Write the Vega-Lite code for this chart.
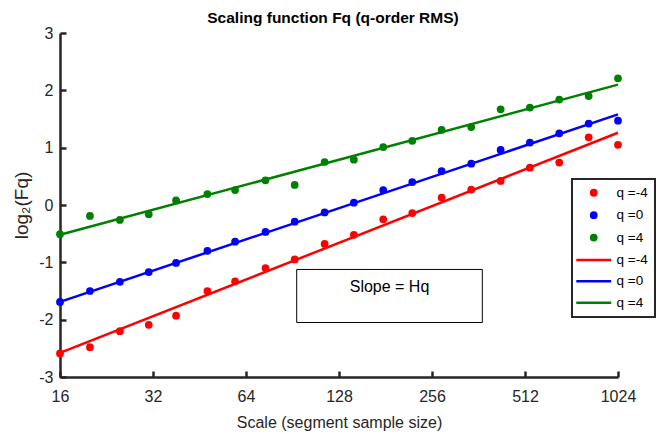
{
  "$schema": "https://vega.github.io/schema/vega-lite/v6.json",
  "width": 558,
  "height": 344,
  "autosize": {"type": "none"},
  "padding": {"left": 60, "top": 33, "right": 39, "bottom": 62},
  "background": "white",
  "title": {"text": "Scaling function Fq (q-order RMS)", "fontSize": 15.5, "fontWeight": "bold", "font": "Liberation Sans", "color": "#000000", "frame": "group", "anchor": "middle", "offset": -1, "dx": -6},
  "datasets": {
    "dots": [
      {"scale": 16, "value": -2.59, "series": "dots q =-4"},
      {"scale": 20, "value": -2.48, "series": "dots q =-4"},
      {"scale": 25, "value": -2.20, "series": "dots q =-4"},
      {"scale": 31, "value": -2.09, "series": "dots q =-4"},
      {"scale": 38, "value": -1.93, "series": "dots q =-4"},
      {"scale": 48, "value": -1.50, "series": "dots q =-4"},
      {"scale": 59, "value": -1.33, "series": "dots q =-4"},
      {"scale": 74, "value": -1.10, "series": "dots q =-4"},
      {"scale": 92, "value": -0.95, "series": "dots q =-4"},
      {"scale": 115, "value": -0.68, "series": "dots q =-4"},
      {"scale": 143, "value": -0.52, "series": "dots q =-4"},
      {"scale": 178, "value": -0.25, "series": "dots q =-4"},
      {"scale": 221, "value": -0.14, "series": "dots q =-4"},
      {"scale": 275, "value": 0.13, "series": "dots q =-4"},
      {"scale": 343, "value": 0.27, "series": "dots q =-4"},
      {"scale": 427, "value": 0.42, "series": "dots q =-4"},
      {"scale": 531, "value": 0.65, "series": "dots q =-4"},
      {"scale": 661, "value": 0.74, "series": "dots q =-4"},
      {"scale": 823, "value": 1.18, "series": "dots q =-4"},
      {"scale": 1024, "value": 1.05, "series": "dots q =-4"},
      {"scale": 16, "value": -1.69, "series": "dots q =0"},
      {"scale": 20, "value": -1.50, "series": "dots q =0"},
      {"scale": 25, "value": -1.34, "series": "dots q =0"},
      {"scale": 31, "value": -1.17, "series": "dots q =0"},
      {"scale": 38, "value": -1.01, "series": "dots q =0"},
      {"scale": 48, "value": -0.80, "series": "dots q =0"},
      {"scale": 59, "value": -0.64, "series": "dots q =0"},
      {"scale": 74, "value": -0.47, "series": "dots q =0"},
      {"scale": 92, "value": -0.29, "series": "dots q =0"},
      {"scale": 115, "value": -0.13, "series": "dots q =0"},
      {"scale": 143, "value": 0.04, "series": "dots q =0"},
      {"scale": 178, "value": 0.26, "series": "dots q =0"},
      {"scale": 221, "value": 0.40, "series": "dots q =0"},
      {"scale": 275, "value": 0.59, "series": "dots q =0"},
      {"scale": 343, "value": 0.72, "series": "dots q =0"},
      {"scale": 427, "value": 0.96, "series": "dots q =0"},
      {"scale": 531, "value": 1.09, "series": "dots q =0"},
      {"scale": 661, "value": 1.25, "series": "dots q =0"},
      {"scale": 823, "value": 1.42, "series": "dots q =0"},
      {"scale": 1024, "value": 1.47, "series": "dots q =0"},
      {"scale": 16, "value": -0.51, "series": "dots q =4"},
      {"scale": 20, "value": -0.19, "series": "dots q =4"},
      {"scale": 25, "value": -0.26, "series": "dots q =4"},
      {"scale": 31, "value": -0.16, "series": "dots q =4"},
      {"scale": 38, "value": 0.08, "series": "dots q =4"},
      {"scale": 48, "value": 0.19, "series": "dots q =4"},
      {"scale": 59, "value": 0.26, "series": "dots q =4"},
      {"scale": 74, "value": 0.43, "series": "dots q =4"},
      {"scale": 92, "value": 0.35, "series": "dots q =4"},
      {"scale": 115, "value": 0.75, "series": "dots q =4"},
      {"scale": 143, "value": 0.79, "series": "dots q =4"},
      {"scale": 178, "value": 1.01, "series": "dots q =4"},
      {"scale": 221, "value": 1.12, "series": "dots q =4"},
      {"scale": 275, "value": 1.31, "series": "dots q =4"},
      {"scale": 343, "value": 1.36, "series": "dots q =4"},
      {"scale": 427, "value": 1.67, "series": "dots q =4"},
      {"scale": 531, "value": 1.70, "series": "dots q =4"},
      {"scale": 661, "value": 1.84, "series": "dots q =4"},
      {"scale": 823, "value": 1.90, "series": "dots q =4"},
      {"scale": 1024, "value": 2.21, "series": "dots q =4"}
    ],
    "fits": [
      {"scale": 16, "value": -2.58, "series": "line q =-4"},
      {"scale": 1024, "value": 1.26, "series": "line q =-4"},
      {"scale": 16, "value": -1.69, "series": "line q =0"},
      {"scale": 1024, "value": 1.58, "series": "line q =0"},
      {"scale": 16, "value": -0.52, "series": "line q =4"},
      {"scale": 1024, "value": 2.10, "series": "line q =4"}
    ],
    "box": [
      {"scale": 93.4, "scale2": 372.5, "value": -1.124, "value2": -2.05}
    ],
    "note": [
      {"scale": 186.5, "value": -1.43, "label": "Slope = Hq"}
    ]
  },
  "encoding": {
    "x": {
      "field": "scale", "type": "quantitative",
      "scale": {"type": "log", "base": 2, "domain": [16, 1024], "nice": false},
      "axis": {"values": [16, 32, 64, 128, 256, 512, 1024], "format": "d", "title": "Scale (segment sample size)", "labelPadding": 17, "titlePadding": 10, "labelFlush": false}
    },
    "y": {
      "field": "value", "type": "quantitative",
      "scale": {"domain": [-3, 3], "nice": false, "zero": false},
      "axis": {"values": [-3, -2, -1, 0, 1, 2, 3], "format": "d", "labelExpr": "replace(datum.label, '−', '-')", "title": "log₂(Fq)", "titleFontSize": 19, "labelPadding": 13, "titlePadding": 7, "labelFlush": false}
    }
  },
  "layer": [
    {
      "data": {"name": "box"},
      "mark": {"type": "rect", "fill": "white", "stroke": "#000000", "strokeWidth": 1},
      "encoding": {
        "x2": {"field": "scale2"},
        "y2": {"field": "value2"}
      }
    },
    {
      "data": {"name": "note"},
      "mark": {"type": "text", "font": "Liberation Sans", "fontSize": 16, "color": "#000000", "align": "center", "baseline": "middle"},
      "encoding": {
        "text": {"field": "label", "type": "nominal"}
      }
    },
    {
      "data": {"name": "fits"},
      "mark": {"type": "line", "strokeWidth": 2.5},
      "encoding": {
        "color": {
          "field": "series", "type": "nominal",
          "scale": {
            "domain": ["dots q =-4", "dots q =0", "dots q =4", "line q =-4", "line q =0", "line q =4"],
            "range": ["#ff0000", "#0000ff", "#008000", "#ff0000", "#0000ff", "#008000"]
          },
          "legend": {"title": null, "orient": "none", "legendX": 512, "legendY": 146, "labelExpr": "substring(datum.label, 5)"}
        },
        "detail": {"field": "series"}
      }
    },
    {
      "data": {"name": "dots"},
      "mark": {"type": "point", "filled": true, "opacity": 1, "size": 60},
      "encoding": {
        "color": {
          "field": "series", "type": "nominal",
          "scale": {
            "domain": ["dots q =-4", "dots q =0", "dots q =4", "line q =-4", "line q =0", "line q =4"],
            "range": ["#ff0000", "#0000ff", "#008000", "#ff0000", "#0000ff", "#008000"]
          },
          "legend": {"title": null, "orient": "none", "legendX": 512, "legendY": 146, "labelExpr": "substring(datum.label, 5)"}
        },
        "shape": {
          "field": "series", "type": "nominal",
          "scale": {
            "domain": ["dots q =-4", "dots q =0", "dots q =4", "line q =-4", "line q =0", "line q =4"],
            "range": ["circle", "circle", "circle", "M-6.6,0L6.6,0", "M-6.6,0L6.6,0", "M-6.6,0L6.6,0"]
          },
          "legend": {"title": null, "orient": "none", "legendX": 512, "legendY": 146, "labelExpr": "substring(datum.label, 5)"}
        }
      }
    }
  ],
  "config": {
    "view": {"stroke": null},
    "font": "Liberation Sans",
    "axis": {
      "grid": false,
      "labelFont": "Liberation Sans", "labelFontSize": 16, "labelColor": "#262626",
      "titleFont": "Liberation Sans", "titleFontSize": 16, "titleFontWeight": "normal", "titleColor": "#262626",
      "domainColor": "#262626", "domainWidth": 2.5,
      "tickColor": "#262626", "tickWidth": 2.5, "tickSize": -6
    },
    "legend": {
      "labelFont": "Liberation Sans", "labelFontSize": 13.5, "labelColor": "#000000",
      "symbolSize": 28, "symbolStrokeWidth": 2.5, "padding": 7, "rowPadding": 6.4,
      "strokeColor": "#262626", "strokeWidth": 2, "fillColor": "white",
      "symbolOffset": 8, "labelOffset": 16
    }
  }
}
